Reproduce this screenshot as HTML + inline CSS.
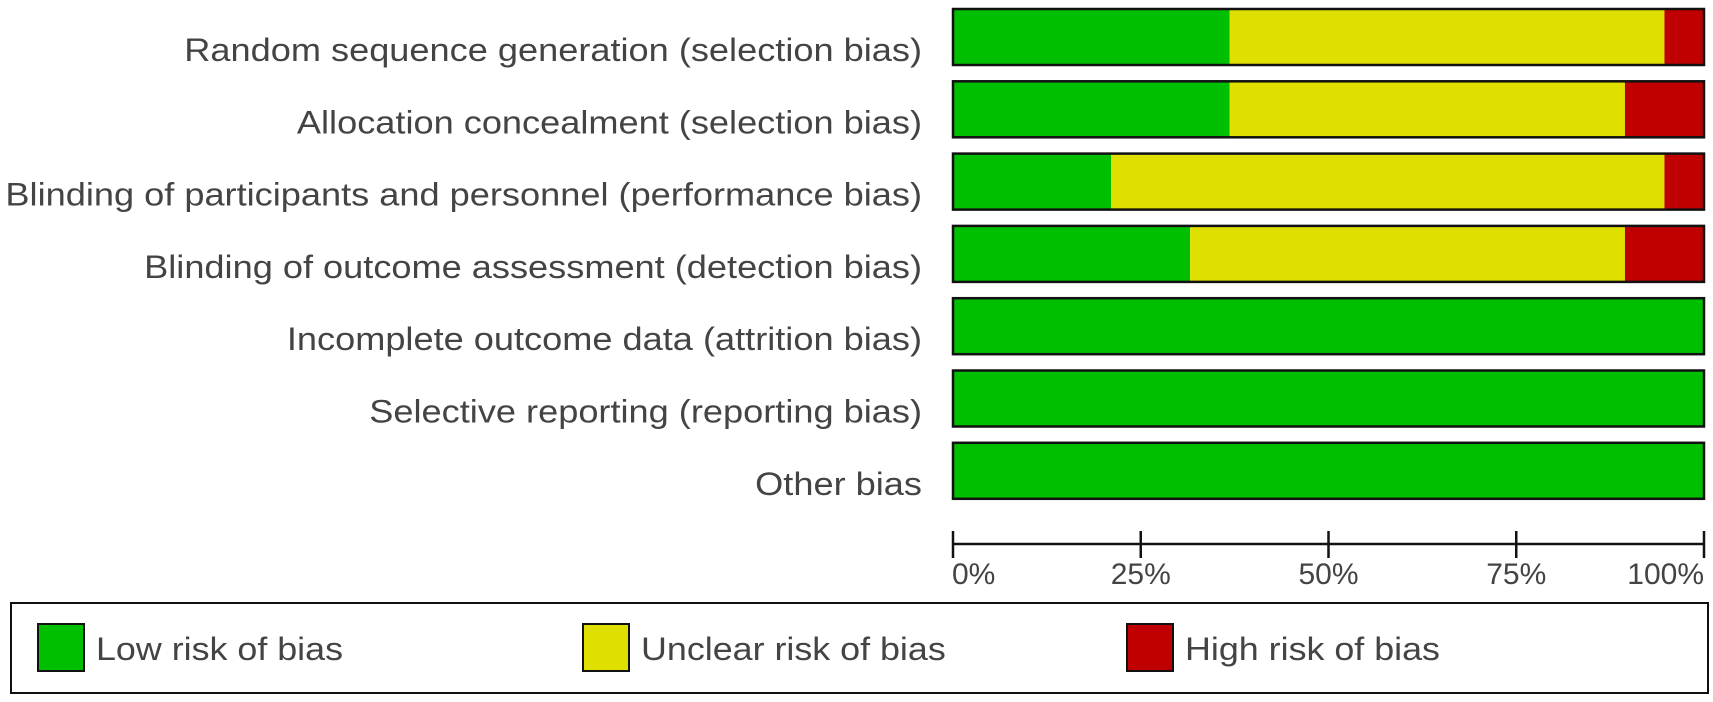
<!DOCTYPE html>
<html><head><meta charset="utf-8"><style>
html,body{margin:0;padding:0;background:#fff;}
svg{display:block;font-family:"Liberation Sans",Arial,sans-serif;}
</style></head><body>
<svg id="chart" width="1713" height="702" viewBox="0 0 1713 702" xmlns="http://www.w3.org/2000/svg"></svg>
<script>
const categories = ["Random sequence generation (selection bias)","Allocation concealment (selection bias)","Blinding of participants and personnel (performance bias)","Blinding of outcome assessment (detection bias)","Incomplete outcome data (attrition bias)","Selective reporting (reporting bias)","Other bias"];
const lowCounts = [7,7,4,6,19,19,19];
const unclearCounts = [11,10,14,11,0,0,0];
const highCounts = [1,2,1,2,0,0,0];
const tickLabels = ["0%","25%","50%","75%","100%"];
const tickValues = [0,25,50,75,100];

const NS="http://www.w3.org/2000/svg";
const svg=document.getElementById('chart');
const X0=953,X1=1704,TOP=9,PITCH=72.3,BH=56;
const x=v=>X0+(X1-X0)*v/100;
const y=i=>TOP+i*PITCH;
function mk(t,a){const e=document.createElementNS(NS,t);for(const k in a)e.setAttribute(k,a[k]);svg.appendChild(e);return e;}
function stretch(t,f){const w=t.getComputedTextLength();t.setAttribute('textLength',w*f);t.setAttribute('lengthAdjust','spacingAndGlyphs');}
const colors=["#00bf00","#e0e000","#c00000"];
categories.forEach((c,i)=>{
  const tot=lowCounts[i]+unclearCounts[i]+highCounts[i];
  const vals=[lowCounts[i],unclearCounts[i],highCounts[i]];
  let acc=0;
  vals.forEach((v,j)=>{
    if(v<=0)return;
    const p0=acc/tot*100,p1=(acc+v)/tot*100;acc+=v;
    const r=mk('rect',{x:x(p0),y:y(i),width:x(p1)-x(p0),height:BH,fill:colors[j]});
    
    
  });
  const b=mk('rect',{x:x(0),y:y(i),width:x(100)-x(0),height:BH,fill:'none',stroke:'#111','stroke-width':2.5});
  
  
  const t=mk('text',{x:922,y:y(i)+BH/2+24,'text-anchor':'end','font-size':32,fill:'#444'});
  t.textContent=c;
  
  
  stretch(t,1.13);
});
const ax=mk('line',{x1:x(0),x2:x(100),y1:544,y2:544,stroke:'#111','stroke-width':2.5});


tickValues.forEach((v,i)=>{
  const l=mk('line',{x1:x(v),x2:x(v),y1:531,y2:558,stroke:'#111','stroke-width':2.5});
  
  
  const anchor=i==0?'start':(i==tickValues.length-1?'end':'middle');
  const t=mk('text',{x:x(v)+(i==0?-1:0),y:584,'text-anchor':anchor,'font-size':30,fill:'#444'});
  t.textContent=tickLabels[i];
  
  
});
const lg=mk('rect',{x:11,y:603,width:1697,height:90,fill:'#fff',stroke:'#111','stroke-width':2});


[["Low risk of bias",38],["Unclear risk of bias",583],["High risk of bias",1127]].forEach((e,j)=>{
  const s=mk('rect',{x:e[1],y:624,width:46,height:47,fill:colors[j],stroke:'#111','stroke-width':2});
  
  
  const t=mk('text',{x:e[1]+58,y:660,'font-size':32,fill:'#444'});
  t.textContent=e[0];
  
  
  stretch(t,1.12);
});
</script>
</body></html>
